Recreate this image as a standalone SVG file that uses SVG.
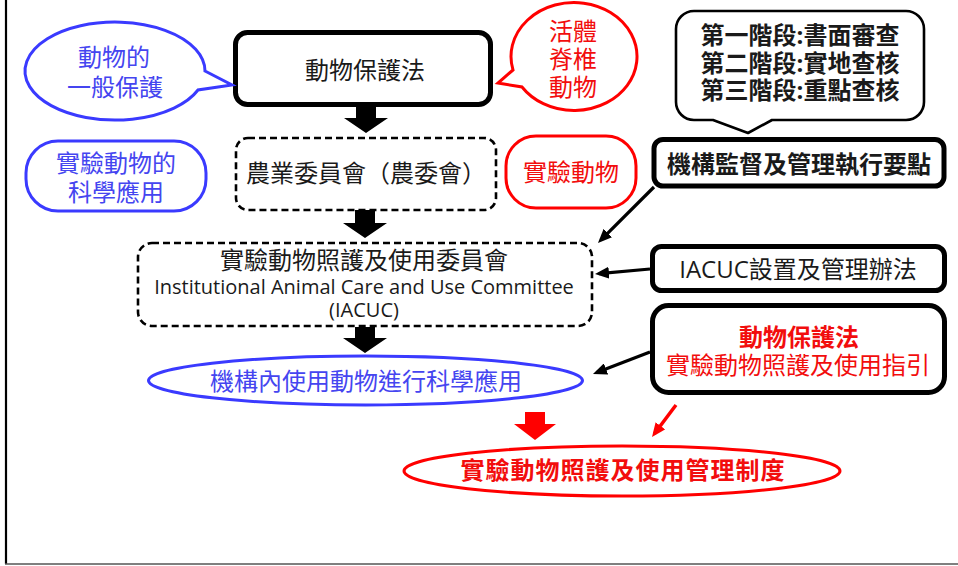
<svg xmlns="http://www.w3.org/2000/svg" width="958" height="566" viewBox="0 0 958 566">
<defs>
<style>
text{font-family:'Open Sans','Noto Sans CJK TC','Noto Sans CJK JP',sans-serif;font-size:24px;text-anchor:middle}
.k{fill:#1a1a1a}
.b{fill:#4545f0}
.r{fill:#f20d0d}
.bold{font-weight:700}
.thick{fill:#fff;stroke:#000;stroke-width:5}
.dash{fill:#fff;stroke:#000;stroke-width:2.6;stroke-dasharray:7 4}
.blue{fill:#fff;stroke:#3a3aff;stroke-width:3}
.red{fill:#fff;stroke:#ff0000;stroke-width:3}
.blk{fill:#fff;stroke:#000;stroke-width:2.6;stroke-linejoin:round}
.block{fill:#000}
.thin{stroke:#000;stroke-width:3.2;fill:none}
.thinr{stroke:#ff0000;stroke-width:3.5;fill:none}
</style>
<marker id="ak" markerUnits="userSpaceOnUse" markerWidth="14" markerHeight="12" refX="10" refY="6" orient="auto">
<path d="M0,0 L14,6 L0,12 Z" fill="#000"/>
</marker>
<marker id="ar" markerUnits="userSpaceOnUse" markerWidth="14" markerHeight="12" refX="10" refY="6" orient="auto">
<path d="M0,0 L14,6 L0,12 Z" fill="#ff0000"/>
</marker>
</defs>
<rect width="958" height="566" fill="#fff"/>
<g id="frame">
<line x1="6" y1="0" x2="6" y2="564" stroke="#000" stroke-width="2.2"/>
<line x1="5" y1="564" x2="958" y2="564" stroke="#555" stroke-width="1.6"/>
</g>
<g id="connectors">
<polygon class="block" points="356,107 376,107 376,118 388,118 366,133 344,118 356,118"/>
<polygon class="block" points="355,210 375,210 375,223 387,223 365,238 343,223 355,223"/>
<polygon class="block" points="355,327 375,327 375,338 387,338 365,353 343,338 355,338"/>
<polygon points="525,412 545,412 545,424 556,424 535,440 514,424 525,424" fill="#ff0000"/>
<line class="thin" x1="654" y1="187" x2="600.8" y2="240.1" marker-end="url(#ak)"/>
<line class="thin" x1="650" y1="269" x2="599" y2="273.6" marker-end="url(#ak)"/>
<line class="thin" x1="650" y1="352" x2="596.7" y2="372.6" marker-end="url(#ak)"/>
<line class="thinr" x1="676" y1="405" x2="654.4" y2="433.8" marker-end="url(#ar)"/>
</g>
<g id="n-animal-protection-act">
<rect class="thick" x="235.5" y="32.5" width="255" height="72" rx="12"/>
<text class="k" x="365" y="79">動物保護法</text>
</g>
<g id="n-coa">
<rect class="dash" x="236" y="138" width="260" height="72" rx="12"/>
<text class="k" x="366" y="182">農業委員會（農委會）</text>
</g>
<g id="n-iacuc">
<rect class="dash" x="138" y="243" width="454" height="83" rx="14"/>
<text class="k" x="364" y="269">實驗動物照護及使用委員會</text>
<text class="k" x="364" y="294" style="font-size:20px">Institutional Animal Care and Use Committee</text>
<text class="k" x="364" y="317" style="font-size:20px">(IACUC)</text>
</g>
<g id="n-institution-use">
<ellipse class="blue" cx="365.5" cy="380.5" rx="217" ry="24.5"/>
<text class="b" x="366" y="390">機構內使用動物進行科學應用</text>
</g>
<g id="n-system">
<ellipse class="red" cx="622" cy="471" rx="218" ry="25"/>
<text class="r bold" x="623" y="479" style="letter-spacing:1px">實驗動物照護及使用管理制度</text>
</g>
<g id="n-general-protection">
<path class="blue" d="M205,71 L232,85 L198,90 A90,49 0 1 1 205,71 Z"/>
<text class="b" x="114" y="66">動物的</text>
<text class="b" x="115" y="96">一般保護</text>
</g>
<g id="n-science-use">
<rect class="blue" x="26" y="141" width="180" height="70" rx="32"/>
<text class="b" x="116" y="172">實驗動物的</text>
<text class="b" x="116" y="201">科學應用</text>
</g>
<g id="n-vertebrates">
<path class="red" d="M513,70 L498,83 L522,87 A63,54 0 1 0 513,70 Z"/>
<text class="r" x="573" y="40">活體</text>
<text class="r" x="573" y="68">脊椎</text>
<text class="r" x="573" y="96">動物</text>
</g>
<g id="n-lab-animals">
<rect class="red" x="506" y="136" width="130" height="72" rx="30"/>
<text class="r" x="571" y="181">實驗動物</text>
</g>
<g id="n-stages">
<path class="blk" d="M694,11 H906 A18,18 0 0 1 924,29 V102 A18,18 0 0 1 906,120 H772 L748,133 L713,120 H694 A18,18 0 0 1 676,102 V29 A18,18 0 0 1 694,11 Z"/>
<text class="k bold" x="800" y="44">第一階段:書面審查</text>
<text class="k bold" x="800" y="72">第二階段:實地查核</text>
<text class="k bold" x="800" y="99">第三階段:重點查核</text>
</g>
<g id="n-supervision">
<rect class="thick" x="654" y="139.5" width="290" height="46.5" rx="9"/>
<text class="k bold" x="799" y="173">機構監督及管理執行要點</text>
</g>
<g id="n-iacuc-rules">
<rect class="thick" x="652.5" y="246.5" width="292" height="44" rx="9"/>
<text class="k" x="798" y="278">IACUC設置及管理辦法</text>
</g>
<g id="n-guidelines">
<rect class="thick" x="652.5" y="305.5" width="292" height="87" rx="16"/>
<text class="r bold" x="799" y="346">動物保護法</text>
<text class="r" x="798" y="374">實驗動物照護及使用指引</text>
</g>
</svg>
